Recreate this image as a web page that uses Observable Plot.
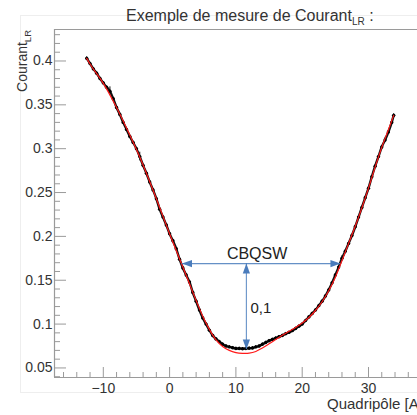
<!DOCTYPE html>
<html>
<head>
<meta charset="utf-8">
<script src="https://cdn.jsdelivr.net/npm/d3@7"></script>
<script src="https://cdn.jsdelivr.net/npm/@observablehq/plot@0.6"></script>
<style>
  html, body { margin: 0; padding: 0; background: #fff; }
  #wrap { position: relative; width: 417px; height: 415px; overflow: hidden; }
  #pad { position: absolute; left: 20px; top: 15px; width: 420px; height: 376px; border: 1px solid #eeeeee; }
  #chart { position: absolute; left: 0; top: 0; }
</style>
</head>
<body>
<div id="wrap"><div id="pad"></div><div id="chart"></div></div>
<script>
// ---- data ----
const measX = [-12.5,-12,-11.5,-11,-10.5,-10,-9.5,-9,-8.5,-8,-7.5,-7,-6.5,-6,-5.5,-5,-4.5,-4,-3.5,-3,-2.5,-2,-1.5,-1,-0.5,0,0.5,1,1.5,2,2.5,3,3.5,4,4.5,5,5.5,6,6.5,7,7.5,8,8.5,9,9.5,10,10.5,11,11.5,12,12.5,13,13.5,14,14.5,15,15.5,16,16.5,17,17.5,18,18.5,19,19.5,20,20.5,21,21.5,22,22.5,23,23.5,24,24.5,25,25.5,26,26.5,27,27.5,28,28.5,29,29.5,30,30.5,31,31.5,32,32.5,33,33.5,33.8];
const measY = [0.403,0.397,0.391,0.386,0.380,0.375,0.370,0.3655,0.357,0.347,0.339,0.330,0.322,0.314,0.307,0.300,0.291,0.281,0.272,0.262,0.253,0.243,0.231,0.222,0.213,0.203,0.195,0.186,0.174,0.164,0.156,0.148,0.136,0.126,0.116,0.107,0.100,0.093,0.087,0.083,0.080,0.077,0.075,0.074,0.073,0.0722,0.0722,0.0718,0.0721,0.0725,0.0728,0.074,0.075,0.077,0.079,0.081,0.0825,0.084,0.0855,0.087,0.089,0.0905,0.0925,0.095,0.0975,0.100,0.104,0.108,0.112,0.116,0.121,0.126,0.132,0.139,0.147,0.156,0.165,0.175,0.183,0.192,0.201,0.211,0.222,0.233,0.244,0.255,0.268,0.280,0.291,0.302,0.310,0.319,0.330,0.338];
const measErr = [0.002,0.0015,0.0015,0.0015,0.0015,0.0015,0.0015,0.005,0.0015,0.0015,0.0015,0.0015,0.0015,0.0015,0.0015,0.0015,0.005,0.0015,0.0015,0.0015,0.0015,0.0015,0.0015,0.0015,0.0015,0.0015,0.0015,0.0015,0.0015,0.0015,0.0015,0.0015,0.0015,0.0015,0.0015,0.0015,0.0015,0.0015,0.0015,0.0015,0.0015,0.0015,0.0015,0.0015,0.0015,0.0015,0.0015,0.0015,0.0015,0.0015,0.0015,0.0015,0.0015,0.0015,0.0015,0.0015,0.0015,0.0015,0.0015,0.0015,0.0015,0.0015,0.0015,0.0015,0.0015,0.0015,0.0015,0.0015,0.0015,0.0015,0.0015,0.0015,0.0015,0.0015,0.0015,0.0015,0.0015,0.003,0.0015,0.0015,0.0015,0.0015,0.0015,0.0015,0.0015,0.0015,0.0015,0.0015,0.0015,0.0015,0.003,0.0015,0.0015,0.002];

const fitX = [-12.5,-12,-10,-8,-6,-4,-2,0,1,2,3,4,5,6,7,8,9,10,11,11.5,12,13,14,15,16,17,18,19,20,21,22,23,24,25,26,27,28,29,30,31,32,33,33.8];
const fitY = [0.403,0.3965,0.3745,0.347,0.3155,0.2815,0.243,0.203,0.184,0.165,0.146,0.127,0.109,0.094,0.082,0.0745,0.070,0.0675,0.0666,0.0665,0.0668,0.0688,0.0728,0.0775,0.0825,0.0872,0.0918,0.0962,0.1012,0.1075,0.1155,0.1255,0.138,0.1535,0.1725,0.192,0.2115,0.2325,0.255,0.279,0.3015,0.3215,0.338];

const xMajorTicks = [-10, 0, 10, 20, 30];
const xMinorTicks = [-16,-14,-12,-8,-6,-4,-2,2,4,6,8,12,14,16,18,22,24,26,28,32,34,36];
const yMajorTicks = [0.05, 0.1, 0.15, 0.2, 0.25, 0.3, 0.35, 0.4];
const yMinorTicks = [0.04,0.06,0.07,0.08,0.09,0.11,0.12,0.13,0.14,0.16,0.17,0.18,0.19,0.21,0.22,0.23,0.24,0.26,0.27,0.28,0.29,0.31,0.32,0.33,0.34,0.36,0.37,0.38,0.39,0.41,0.42,0.43];

const hArrow = [{y: 0.169, x1: 1.87, x2: 25.77}];
const vArrow = [{x: 11.58, y1: 0.071, y2: 0.169}];
const arrowHeads = [
  {x: 1.87, y: 0.169, rot: -90},
  {x: 25.77, y: 0.169, rot: 90},
  {x: 11.58, y: 0.169, rot: 0},
  {x: 11.58, y: 0.071, rot: 180}
];
const widthLabel = [{x: 13.2, y: 0.1796, text: "CBQSW"}];
const heightLabel = [{x: 12.2, y: 0.118, text: "0,1"}];

const titleMain = "Exemple de mesure de Courant";
const titleSub = "LR";
const xTitle = "Quadripôle [A]";
const yTitle = "Courant";

// ---- build ----
const meas = measX.map((x, i) => ({x, y: measY[i], e: measErr[i]}));
const fit = fitX.map((x, i) => ({x, y: fitY[i]}));

const W = 417, H = 415, mL = 54, mT = 29, mB = 38, mR = 0;
const plotW = W - mL - mR, plotH = H - mT - mB;
const xDom = [-17.36, 37.39];
const yDom = [0.0391, 0.4359];
const axisGray = "#9a9a9a";
const blue = "#4a7cbc";
const FONT = "'Liberation Sans', Arial, Helvetica, sans-serif";

const headSymbol = {
  draw(ctx) {
    ctx.moveTo(0, 0);
    ctx.lineTo(3.6, 10);
    ctx.lineTo(-3.6, 10);
    ctx.closePath();
  }
};
const fmtX = d => d < 0 ? "\u2212" + Math.abs(d) : String(d);

const chart = Plot.plot({
  width: W, height: H,
  marginLeft: mL, marginTop: mT, marginBottom: mB, marginRight: mR,
  style: {fontFamily: FONT, background: "transparent", color: "#333"},
  x: {domain: xDom},
  y: {domain: yDom},
  marks: [
    Plot.ruleY([yDom[1]], {stroke: axisGray, strokeWidth: 1}),
    Plot.ruleY([yDom[0]], {stroke: axisGray, strokeWidth: 1.2}),
    Plot.ruleX([xDom[0]], {stroke: axisGray, strokeWidth: 1.2}),
    Plot.ruleX(xMajorTicks, {insetTop: plotH - 10, stroke: axisGray}),
    Plot.ruleX(xMinorTicks, {insetTop: plotH - 5, stroke: axisGray}),
    Plot.ruleY(yMajorTicks, {insetRight: plotW - 12, stroke: axisGray}),
    Plot.ruleY(yMinorTicks, {insetRight: plotW - 6, stroke: axisGray}),
    Plot.axisX(xMajorTicks, {tickSize: 0, tickPadding: 6, fontSize: 14, label: null, tickFormat: fmtX, fill: "#333"}),
    Plot.axisY(yMajorTicks, {tickSize: 0, tickPadding: 2, fontSize: 14, label: null, tickFormat: d => String(d), fill: "#333"}),
    Plot.ruleX(meas, {x: "x", y1: d => d.y - d.e, y2: d => d.y + d.e, stroke: "#111", strokeWidth: 1}),
    Plot.line(meas, {x: "x", y: "y", stroke: "#111", strokeWidth: 2.4, curve: "monotone-x"}),
    Plot.dot(meas, {x: "x", y: "y", r: 1.7, fill: "#000", stroke: "none"}),
    Plot.line(fit, {x: "x", y: "y", stroke: "#ff1a1a", strokeWidth: 1.2, curve: "monotone-x"}),
    Plot.ruleY(hArrow, {y: "y", x1: "x1", x2: "x2", stroke: blue, strokeWidth: 1.1, strokeOpacity: 0.85}),
    Plot.ruleX(vArrow, {x: "x", y1: "y1", y2: "y2", stroke: blue, strokeWidth: 1.1, strokeOpacity: 0.85}),
    Plot.dot(arrowHeads, {x: "x", y: "y", rotate: "rot", symbol: headSymbol, fill: blue, stroke: "none"}),
    Plot.text(widthLabel, {x: "x", y: "y", text: "text", textAnchor: "middle", fontSize: 16, fill: "#222"}),
    Plot.text(heightLabel, {x: "x", y: "y", text: "text", textAnchor: "start", fontSize: 15, fill: "#222"})
  ]
});

const svg = d3.select(chart);
// title
const t = svg.append("text").attr("x", 126).attr("y", 21).attr("text-anchor", "start")
  .attr("font-size", 16).attr("fill", "#333").attr("font-family", FONT);
t.append("tspan").text(titleMain);
t.append("tspan").attr("font-size", 10).attr("dy", 4).text(titleSub);
t.append("tspan").attr("dy", -4).text(" :");
// y title
const yt = svg.append("text").attr("transform", "translate(27,30) rotate(-90)")
  .attr("text-anchor", "end").attr("font-size", 14).attr("fill", "#333")
  .attr("font-family", FONT);
yt.append("tspan").text(yTitle);
yt.append("tspan").attr("font-size", 9.5).attr("dy", 4).text(titleSub);
// x title
svg.append("text").attr("x", 327).attr("y", 409).attr("text-anchor", "start")
  .attr("font-size", 15).attr("fill", "#333").attr("font-family", FONT).text(xTitle);

document.getElementById("chart").appendChild(chart);
</script>
</body>
</html>
